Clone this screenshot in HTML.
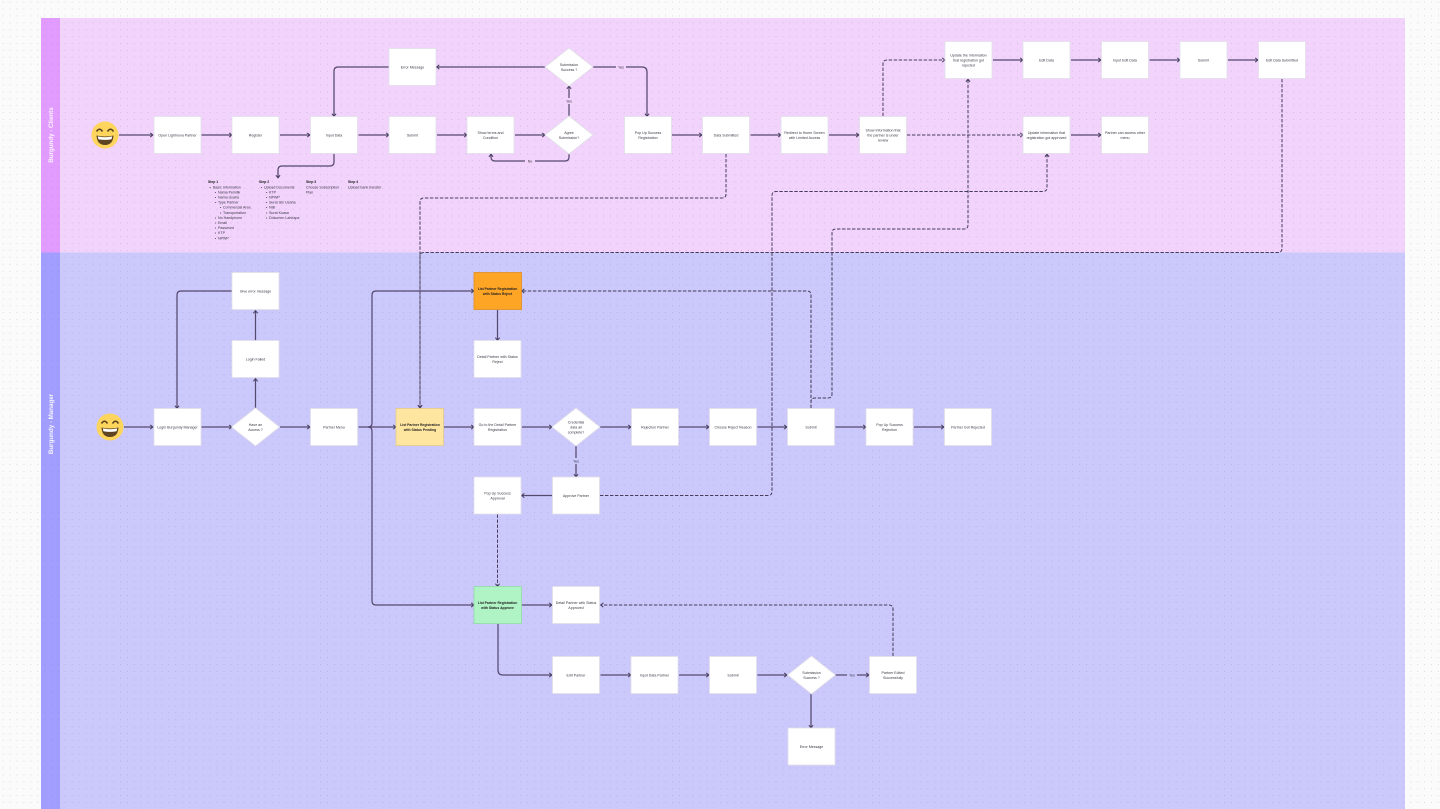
<!DOCTYPE html>
<html><head><meta charset="utf-8"><style>
html,body{margin:0;padding:0;width:1440px;height:809px;overflow:hidden;background:#fbfbfb}
svg{display:block;filter:blur(.35px)}
text{font-family:"Liberation Sans",sans-serif;font-size:3.6px;fill:#3c3845;text-anchor:middle}
.n{fill:#fff;stroke:#e2dfe8;stroke-width:.8}
.s{fill:none;stroke:#554970;stroke-width:1.25;marker-end:url(#a)}
.d{fill:none;stroke:#453d5a;stroke-width:1;stroke-dasharray:3.4 1.6;marker-end:url(#a)}
.b{font-weight:bold;fill:#222;font-size:3.4px}
.l{text-anchor:start}
.h{font-size:6.2px;fill:#fff;font-weight:bold;opacity:.9}
</style></head><body>
<svg width="1440" height="809" viewBox="0 0 1440 809" xmlns="http://www.w3.org/2000/svg">
<defs>
<pattern id="g" x="2.7" y="1.6" width="6.9" height="6.9" patternUnits="userSpaceOnUse"><rect width="1" height="1" fill="#6a5a80" fill-opacity=".2"/></pattern>
<marker id="a" markerUnits="userSpaceOnUse" markerWidth="6" markerHeight="6" refX="4.6" refY="3" orient="auto"><path d="M1.8 .9L4.4 3L1.8 5.1" fill="none" stroke="#453d5a" stroke-width="1"/></marker>
<g id="e"><circle r="13.5" fill="#fdd45c"/><path d="M-8.5 -3.5Q-5.5 -8 -2.5 -3.5M2.5 -3.5Q5.5 -8 8.5 -3.5" fill="none" stroke="#5a4320" stroke-width="1.6"/><path d="M-8.5 0.5Q0 2.5 8.5 0.5Q8 10 0 10Q-8 10 -8.5 0.5Z" fill="#5e4420"/><path d="M-7.2 1.4Q0 3 7.2 1.4L6.6 4.2Q0 5.5 -6.6 4.2Z" fill="#fff"/></g>
</defs>
<rect x="41" y="18" width="1364" height="234.500" fill="#f1d3fb"/>
<rect x="41" y="252.500" width="1364" height="557" fill="#cbc8fb"/>
<rect x="41" y="18" width="19" height="234.500" fill="#e29bff"/>
<rect x="41" y="252.500" width="19" height="557" fill="#a19eff"/>
<rect width="1440" height="809" fill="url(#g)"/>
<text class="h" transform="translate(53,135) rotate(-90)">Burgundy - Clients</text>
<text class="h" transform="translate(53,424) rotate(-90)">Burgundy - Manager</text>

<path class="s" d="M119 135H153"/><path class="s" d="M201.500 135H232"/><path class="s" d="M280 135H310"/><path class="s" d="M358.500 135H389"/><path class="s" d="M437 135H467"/><path class="s" d="M515 135H545"/>
<path class="s" d="M672 135H702"/><path class="s" d="M750.500 135H781"/><path class="s" d="M829 135H859"/>
<path class="s" d="M545 67H436.500"/><path class="s" d="M389 67H338Q334 67 334 71V116.500"/>
<path class="s" d="M334 154V162Q334 166 330 166H282Q278 166 278 170V178"/>
<path class="s" d="M569 116V86"/>
<path class="s" d="M593 67H642Q647 67 647 72V116.500"/>
<path class="s" d="M569 154V157Q569 161 565 161H495Q491 161 491 157V154"/>
<path class="s" d="M993 60H1023"/><path class="s" d="M1071 60H1101"/><path class="s" d="M1149.500 60H1180"/><path class="s" d="M1228 60H1258"/><path class="s" d="M1071 135H1101"/>

<path class="d" d="M726 154V194Q726 198 722 198H424Q420 198 420 202V408"/>
<path class="d" d="M1282 79V248Q1282 252.500 1278 252.500H424Q420 252.500 420 256V408"/>
<path class="d" d="M883 116V64Q883 60 887 60H945"/>
<path class="d" d="M907 135H1023"/>
<path class="d" d="M600 495.500H768Q772 495.500 772 491.500V195.500Q772 191.500 776 191.500H1043Q1047 191.500 1047 187.500V154"/>
<path class="d" d="M811 408V402Q811 398 815 398H828Q832 398 832 394V233Q832 229 836 229H964Q968 229 968 225V79"/>
<path class="d" d="M811 408V295Q811 291 807 291H521.500"/>
<path class="d" d="M497.500 514.500V586.500"/>
<path class="d" d="M893 656V609Q893 605 889 605H600.500"/>

<path class="s" d="M124 427H153"/><path class="s" d="M201.500 427H232"/><path class="s" d="M280 427H310"/>
<path class="s" d="M255.500 408V378.500"/><path class="s" d="M255.500 340.500V310.500"/>
<path class="s" d="M232 291H181Q177 291 177 295V408.500"/>
<path class="s" d="M358.500 427H396"/>
<path class="s" d="M368 427Q372 427 372 423V295Q372 291 376 291H474"/>
<path class="s" d="M368 427Q372 427 372 431V601Q372 605 376 605H474"/>
<path class="s" d="M444 427H474"/><path class="s" d="M522 427H552"/><path class="s" d="M600 427H631"/><path class="s" d="M679 427H709"/><path class="s" d="M757.500 427H787"/><path class="s" d="M835.500 427H866"/><path class="s" d="M914 427H944"/>
<path class="s" d="M497.500 310V340.500"/>
<path class="s" d="M576 446V477"/>
<path class="s" d="M552 495.500H521.500"/>
<path class="s" d="M522 605H552"/>
<path class="s" d="M498 624V670Q498 675 503 675H552"/>
<path class="s" d="M600.500 675H631"/><path class="s" d="M679 675H709"/><path class="s" d="M757.500 675H787"/><path class="s" d="M835 675H869"/>
<path class="s" d="M811 694V728"/>

<use href="#e" x="105" y="135"/><use href="#e" x="110" y="427"/>

<!-- clients row -->
<rect class="n" x="154" y="116.500" width="47" height="37"/><text x="177.500" y="136.300">Open Lightnova Partner</text>
<rect class="n" x="232" y="116.500" width="47" height="37"/><text x="255.500" y="136.300">Register</text>
<rect class="n" x="310.500" y="116.500" width="47" height="37"/><text x="334" y="136.300">Input Data</text>
<rect class="n" x="389" y="116.500" width="47" height="37"/><text x="412.500" y="136.300">Submit</text>
<rect class="n" x="467" y="116.500" width="47" height="37"/><text x="490.500" y="133.800">Show terms and</text><text x="490.500" y="138.800">Condition</text>
<path class="n" d="M569 116L593 135L569 154L545 135Z"/><text x="569" y="133.800">Agree</text><text x="569" y="138.800">Submission?</text>
<rect class="n" x="389" y="48.500" width="47" height="37"/><text x="412.500" y="68.300">Error Message</text>
<path class="n" d="M569 48L593 67L569 86L545 67Z"/><text x="569" y="65.800">Submission</text><text x="569" y="70.800">Success ?</text>
<rect class="n" x="624.500" y="116.500" width="47" height="37"/><text x="648" y="133.800">Pop Up Success</text><text x="648" y="138.800">Registration</text>
<rect class="n" x="702.500" y="116.500" width="47" height="37"/><text x="726" y="136.300">Data Submitted</text>
<rect class="n" x="781" y="116.500" width="47" height="37"/><text x="804.500" y="133.800">Redirect to Home Screen</text><text x="804.500" y="138.800">with Limited Access</text>
<rect class="n" x="859.500" y="116.500" width="47" height="37"/><text x="883" y="131.300">Show Information that</text><text x="883" y="136.300">the partner is under</text><text x="883" y="141.300">review</text>
<rect class="n" x="1023" y="116.500" width="47" height="37"/><text x="1046.500" y="133.800">Update information that</text><text x="1046.500" y="138.800">registration got approved</text>
<rect class="n" x="1101.500" y="116.500" width="47" height="37"/><text x="1125" y="133.800">Partner can access other</text><text x="1125" y="138.800">menu</text>
<rect class="n" x="945" y="41.500" width="47" height="37"/><text x="968.500" y="56.300">Update the information</text><text x="968.500" y="61.300">that registration got</text><text x="968.500" y="66.300">rejected</text>
<rect class="n" x="1023" y="41.500" width="47" height="37"/><text x="1046.500" y="61.300">Edit Data</text>
<rect class="n" x="1101.500" y="41.500" width="47" height="37"/><text x="1125" y="61.300">Input Edit Data</text>
<rect class="n" x="1180" y="41.500" width="47" height="37"/><text x="1203.500" y="61.300">Submit</text>
<rect class="n" x="1258.500" y="41.500" width="47" height="37"/><text x="1282" y="61.300">Edit Data Submitted</text>

<rect x="616" y="64" width="10" height="6" fill="#f1d3fb"/><text x="621" y="68.400">Yes</text>
<rect x="564" y="98" width="10" height="6" fill="#f1d3fb"/><text x="569" y="102.500">Yes</text>
<rect x="525" y="158" width="10" height="6" fill="#f1d3fb"/><text x="530" y="162.500">No</text>

<!-- steps -->
<g>
<text class="l b" x="208" y="183.200">Step 1</text>
<text class="l" x="209.500" y="188.300">•</text><text class="l" x="213" y="188.300">Basic Information</text>
<text class="l" x="214.800" y="193.400">•</text><text class="l" x="218" y="193.400">Nama Pemilik</text>
<text class="l" x="214.800" y="198.500">•</text><text class="l" x="218" y="198.500">Nama Usaha</text>
<text class="l" x="214.800" y="203.600">•</text><text class="l" x="218" y="203.600">Type Partner</text>
<text class="l" x="220" y="208.700">•</text><text class="l" x="223" y="208.700">Commercial Area</text>
<text class="l" x="220" y="213.800">•</text><text class="l" x="223" y="213.800">Transportation</text>
<text class="l" x="214.800" y="218.900">•</text><text class="l" x="218" y="218.900">No Handphone</text>
<text class="l" x="214.800" y="224">•</text><text class="l" x="218" y="224">Email</text>
<text class="l" x="214.800" y="229.100">•</text><text class="l" x="218" y="229.100">Password</text>
<text class="l" x="214.800" y="234.200">•</text><text class="l" x="218" y="234.200">KTP</text>
<text class="l" x="214.800" y="239.300">•</text><text class="l" x="218" y="239.300">NPWP</text>
<text class="l b" x="259" y="183.200">Step 2</text>
<text class="l" x="260.800" y="188.300">•</text><text class="l" x="264" y="188.300">Upload Documents</text>
<text class="l" x="266" y="193.400">•</text><text class="l" x="269" y="193.400">KTP</text>
<text class="l" x="266" y="198.500">•</text><text class="l" x="269" y="198.500">NPWP</text>
<text class="l" x="266" y="203.600">•</text><text class="l" x="269" y="203.600">Surat Izin Usaha</text>
<text class="l" x="266" y="208.700">•</text><text class="l" x="269" y="208.700">NIB</text>
<text class="l" x="266" y="213.800">•</text><text class="l" x="269" y="213.800">Surat Kuasa</text>
<text class="l" x="266" y="218.900">•</text><text class="l" x="269" y="218.900">Dokumen Lahirapa</text>
<text class="l b" x="306" y="183.200">Step 3</text>
<text class="l" x="306" y="188.300">Choose Subscription</text><text class="l" x="306" y="193.400">Plan</text>
<text class="l b" x="348" y="183.200">Step 4</text>
<text class="l" x="348" y="188.300">Upload bank transfer</text>
</g>

<!-- manager -->
<rect class="n" x="154" y="408.500" width="47" height="37"/><text x="177.500" y="428.300">Login Burgundy Manager</text>
<path class="n" d="M255.500 408L279.500 427L255.500 446L231.500 427Z"/><text x="255.500" y="425.800">Have an</text><text x="255.500" y="430.800">Access ?</text>
<rect class="n" x="232" y="340.500" width="47" height="37"/><text x="255.500" y="360.300">Login Failed</text>
<rect class="n" x="232" y="272.500" width="47" height="37"/><text x="255.500" y="292.300">Give error message</text>
<rect class="n" x="310.500" y="408.500" width="47" height="37"/><text x="334" y="428.300">Partner Menu</text>
<rect x="396" y="408.500" width="47.500" height="37" fill="#ffe6a0" stroke="#e5cc86" stroke-width=".8"/><text class="b" x="420" y="425.800">List Partner Registration</text><text class="b" x="420" y="430.800">with Status Pending</text>
<rect class="n" x="474" y="408.500" width="47" height="37"/><text x="497.500" y="425.800">Go to the Detail Partner</text><text x="497.500" y="430.800">Registration</text>
<path class="n" d="M576 408L600 427L576 446L552 427Z"/><text x="576" y="423.300">Credential</text><text x="576" y="428.300">data all</text><text x="576" y="433.300">complete?</text>
<rect class="n" x="631.500" y="408.500" width="47" height="37"/><text x="655" y="428.300">Rejection Partner</text>
<rect class="n" x="709.500" y="408.500" width="47" height="37"/><text x="733" y="428.300">Choose Reject Reason</text>
<rect class="n" x="787.500" y="408.500" width="47" height="37"/><text x="811" y="428.300">Submit</text>
<rect class="n" x="866" y="408.500" width="47" height="37"/><text x="889.500" y="425.800">Pop Up Success</text><text x="889.500" y="430.800">Rejection</text>
<rect class="n" x="944.500" y="408.500" width="47" height="37"/><text x="968" y="428.300">Partner Got Rejected</text>
<rect x="474" y="272.500" width="47.500" height="37" fill="#ffa526" stroke="#e08f20" stroke-width=".8"/><text class="b" x="497.500" y="289.800">List Partner Registration</text><text class="b" x="497.500" y="294.800">with Status Reject</text>
<rect class="n" x="474" y="340.500" width="47" height="37"/><text x="497.500" y="357.800">Detail Partner with Status</text><text x="497.500" y="362.800">Reject</text>
<rect class="n" x="474" y="477" width="47" height="37"/><text x="497.500" y="494.300">Pop Up Success</text><text x="497.500" y="499.300">Approval</text>
<rect class="n" x="552.500" y="477" width="47" height="37"/><text x="576" y="496.800">Approve Partner</text>
<rect x="571" y="458" width="10" height="6" fill="#cbc8fb"/><text x="576" y="462.600">Yes</text>
<rect x="474" y="586.500" width="47.500" height="37" fill="#b0f3c4" stroke="#8fdca6" stroke-width=".8"/><text class="b" x="497.500" y="604">List Partner Registration</text><text class="b" x="497.500" y="609">with Status Approve</text>
<rect class="n" x="552.500" y="586.500" width="47" height="37"/><text x="576" y="604">Detail Partner with Status</text><text x="576" y="609">Approved</text>
<rect class="n" x="552.500" y="656.500" width="47" height="37"/><text x="576" y="676.300">Edit Partner</text>
<rect class="n" x="631" y="656.500" width="47" height="37"/><text x="654.500" y="676.300">Input Data Partner</text>
<rect class="n" x="709.500" y="656.500" width="47" height="37"/><text x="733" y="676.300">Submit</text>
<path class="n" d="M811.500 656L835.500 675L811.500 694L787.500 675Z"/><text x="811.500" y="673.800">Submission</text><text x="811.500" y="678.800">Success ?</text>
<rect x="847" y="672" width="10" height="6" fill="#cbc8fb"/><text x="852" y="676.500">Yes</text>
<rect class="n" x="869.500" y="656.500" width="47" height="37"/><text x="893" y="673.800">Partner Edited</text><text x="893" y="678.800">Successfully</text>
<rect class="n" x="788" y="728" width="47" height="37"/><text x="811.500" y="747.800">Error Message</text>
</svg>
</body></html>
